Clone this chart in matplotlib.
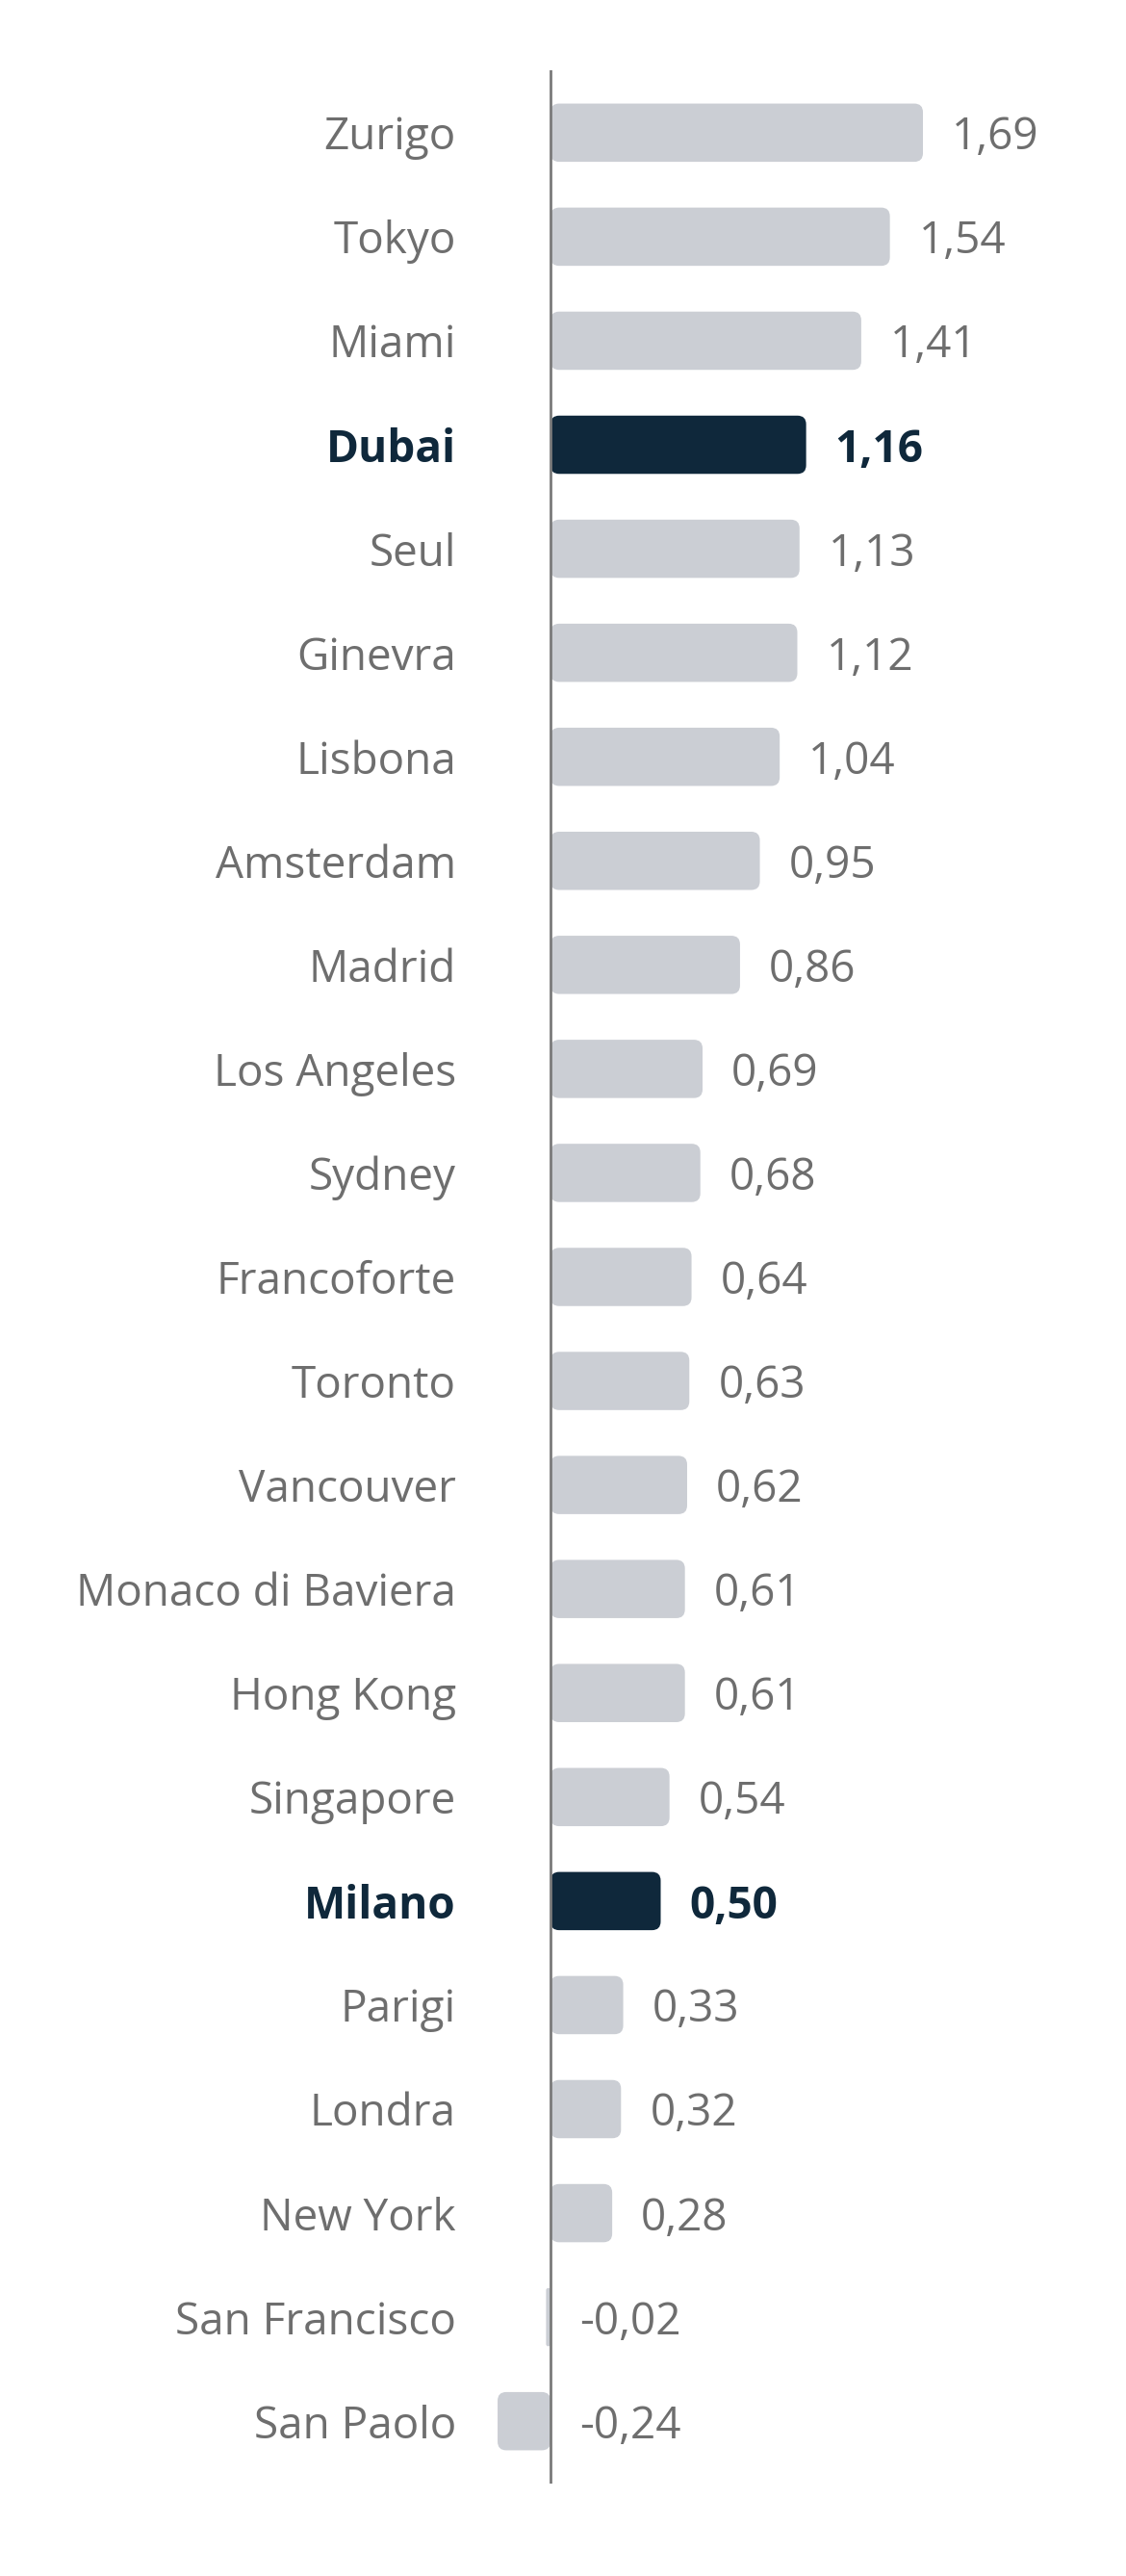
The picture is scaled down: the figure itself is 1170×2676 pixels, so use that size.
import matplotlib
matplotlib.use("Agg")
import matplotlib.pyplot as plt
from matplotlib.patches import FancyBboxPatch
from matplotlib.transforms import blended_transform_factory

cities = ["Zurigo", "Tokyo", "Miami", "Dubai", "Seul", "Ginevra", "Lisbona",
          "Amsterdam", "Madrid", "Los Angeles", "Sydney", "Francoforte", "Toronto",
          "Vancouver", "Monaco di Baviera", "Hong Kong", "Singapore", "Milano",
          "Parigi", "Londra", "New York", "San Francisco", "San Paolo"]
values = [1.69, 1.54, 1.41, 1.16, 1.13, 1.12, 1.04, 0.95, 0.86, 0.69, 0.68, 0.64,
          0.63, 0.62, 0.61, 0.61, 0.54, 0.50, 0.33, 0.32, 0.28, -0.02, -0.24]
highlight = ["Dubai", "Milano"]

GRAY_BAR = "#CBCED4"
DARK = "#0F283B"
GRAY_TXT = "#6E6E6E"
FONT = ["Open Sans", "DejaVu Sans"]
FS = 33

W, H, DPI = 1170, 2676, 100
fig = plt.figure(figsize=(W / DPI, H / DPI), dpi=DPI, facecolor="white")

ax_left_px = 478
axis_px = 572
px_per_unit = 229
top_px, bot_px = 73, 2580
ax = fig.add_axes([ax_left_px / W, (H - bot_px) / H, 1 - ax_left_px / W, (bot_px - top_px) / H])
n = len(cities)
ax.set_xlim(-(axis_px - ax_left_px) / px_per_unit, (W - axis_px) / px_per_unit)
ax.set_ylim(n - 1 + 0.6, -0.6)
ax.axis("off")

# data units per pixel
ax_w_px = W - ax_left_px
ax_h_px = bot_px - top_px
x_per_px = (ax.get_xlim()[1] - ax.get_xlim()[0]) / ax_w_px
y_per_px = (ax.get_ylim()[0] - ax.get_ylim()[1]) / ax_h_px
aspect = y_per_px / x_per_px

bar_h = 0.56
r_px = 9
tr = blended_transform_factory(fig.transFigure, ax.transData)
for i, (c, v) in enumerate(zip(cities, values)):
    hl = c in highlight
    col = DARK if hl else GRAY_BAR
    x0 = min(0, v)
    w = abs(v)
    r = min(r_px * x_per_px, w / 2)
    p = FancyBboxPatch((x0, i - bar_h / 2), w, bar_h,
                       boxstyle=f"round,pad=0,rounding_size={r}",
                       mutation_aspect=aspect, facecolor=col, edgecolor="none", zorder=2)
    ax.add_patch(p)
    lab = f"{v:.2f}".replace(".", ",")
    ax.text(max(v, 0) + 30 * x_per_px, i, lab, ha="left", va="center_baseline",
            fontsize=FS, family=FONT, color=DARK if hl else GRAY_TXT,
            fontweight="bold" if hl else "normal")
    ax.text(474 / W, i, c, transform=tr, ha="right", va="center_baseline",
            fontsize=FS, family=FONT, color=DARK if hl else GRAY_TXT,
            fontweight="bold" if hl else "normal", clip_on=False)

ax.axvline(0, color="#7A7A7A", lw=2, zorder=3)

fig.savefig("out.png", dpi=DPI, facecolor="white")
